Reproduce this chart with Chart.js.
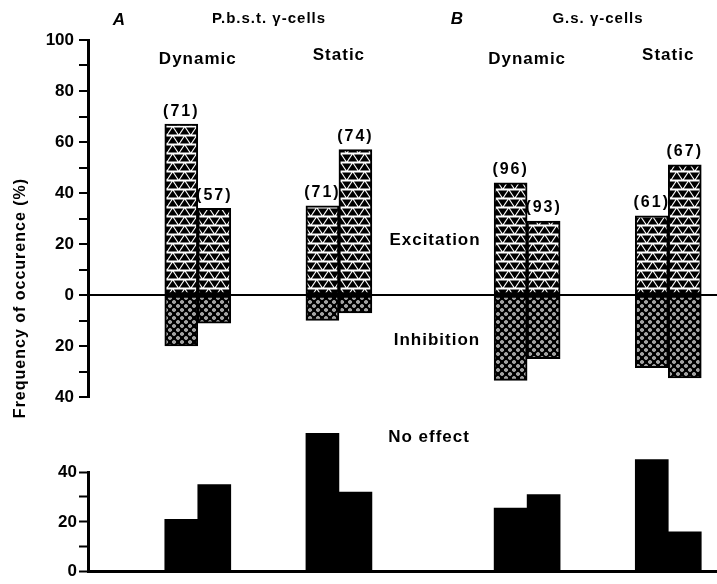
<!DOCTYPE html>
<html>
<head>
<meta charset="utf-8">
<script src="https://cdn.jsdelivr.net/npm/chart.js@4.4.1/dist/chart.umd.min.js"></script>
<style>
  html, body { margin: 0; padding: 0; background: #fff; }
  #wrap { position: relative; width: 717px; height: 584px; overflow: hidden; }
  canvas { position: absolute; left: 0; top: 0; }
</style>
</head>
<body>
<div id="wrap">
  <canvas id="effectChart" width="731" height="584"></canvas>
  <canvas id="noEffectChart" width="731" height="584"></canvas>
</div>
<script>
// Column groups (A: P.b.s.t. γ-cells, B: G.s. γ-cells)
const groupNames = ['Dynamic', 'Static', 'Dynamic', 'Static'];
const panelLetters = ['A', 'B'];
const panelTitles = ['P.b.s.t. γ-cells', 'G.s. γ-cells'];

// Frequency of occurence (%), first and second bar of each group
const excitationFirst = [67, 35, 44, 31];
const excitationSecond = [34, 57, 29, 51];
const inhibitionFirst = [20, 10, 33.5, 28.5];
const inhibitionSecond = [11, 7, 25, 32.5];
const noEffectFirst = [21, 55.5, 25.5, 45];
const noEffectSecond = [35, 32, 31, 16];

// number of cells, printed above the excitation bars
const cellCountsFirst = [71, 71, 96, 61];
const cellCountsSecond = [57, 74, 93, 67];

// the groups sit on a category axis with empty slots between them
const groupSlots = [7, 16, 28, 37];
const slotCount = 42;
const slotLabels = Array.from({ length: slotCount }, (_, i) => {
    const g = groupSlots.indexOf(i);
    return g === -1 ? '' : groupNames[g];
});

function toSlots(values, sign = 1) {
    const out = new Array(slotCount).fill(null);
    groupSlots.forEach((slot, i) => { out[slot] = sign * values[i]; });
    return out;
}

const FONT = '"Liberation Sans", Arial, Helvetica, sans-serif';

// hatch fills
function makePattern(draw, w, h) {
    const c = document.createElement('canvas');
    c.width = w;
    c.height = h;
    draw(c.getContext('2d'), w, h);
    return c.getContext('2d').createPattern(c, 'repeat');
}

function tri(g, pts) {
    g.beginPath();
    g.moveTo(pts[0], pts[1]);
    g.lineTo(pts[2], pts[3]);
    g.lineTo(pts[4], pts[5]);
    g.closePath();
    g.fill();
}

const triangles = makePattern((g, w, h) => {
    g.fillStyle = '#fff';
    g.fillRect(0, 0, w, h);
    g.fillStyle = '#000';
    tri(g, [0, 8.6, 9.4, 8.6, 4.7, 1.4]);
    tri(g, [6, 1.4, 15.4, 1.4, 10.7, 8.6]);
    tri(g, [-6, 1.4, 3.4, 1.4, -1.3, 8.6]);
}, 12, 9);

const rings = makePattern((g, w, h) => {
    g.fillStyle = '#000';
    g.fillRect(0, 0, w, h);
    [[2, 2], [6, 6]].forEach(([x, y]) => {
        g.fillStyle = '#fff';
        g.beginPath(); g.arc(x, y, 1.8, 0, Math.PI * 2); g.fill();
        g.fillStyle = '#000';
        g.beginPath(); g.arc(x, y, 0.7, 0, Math.PI * 2); g.fill();
    });
}, 8, 8);

function putText(ctx, text, x, y, size, opts = {}) {
    ctx.save();
    ctx.font = (opts.italic ? 'italic ' : '') + 'bold ' + size + 'px ' + FONT;
    ctx.letterSpacing = (opts.spacing ?? 1) + 'px';
    ctx.fillStyle = '#000';
    ctx.textAlign = 'center';
    ctx.textBaseline = 'middle';
    ctx.translate(x, y);
    if (opts.rotate) ctx.rotate(opts.rotate);
    ctx.fillText(text, 0, 0);
    ctx.restore();
}

// headings, group names, counts and the side labels
const labelPlugin = {
    id: 'labels',
    afterDatasetsDraw(chart) {
        const ctx = chart.ctx;
        const x = chart.scales.x;

        putText(ctx, panelLetters[0], 119, 20, 17, { italic: true, spacing: 0 });
        putText(ctx, panelTitles[0], 269, 19, 15);
        putText(ctx, panelLetters[1], 457, 19, 17, { italic: true, spacing: 0 });
        putText(ctx, panelTitles[1], 598, 19, 15);

        groupSlots.forEach((slot, i) => {
            const y = groupNames[i] === 'Dynamic' ? 59 : 55;
            putText(ctx, groupNames[i], x.getPixelForValue(slot), y, 17);
        });

        [[0, cellCountsFirst], [2, cellCountsSecond]].forEach(([ds, counts]) => {
            const meta = chart.getDatasetMeta(ds);
            groupSlots.forEach((slot, i) => {
                const bar = meta.data[slot];
                putText(ctx, '(' + counts[i] + ')', bar.x, bar.y - 13, 16, { spacing: 2 });
            });
        });

        putText(ctx, 'Excitation', 435, 240, 17);
        putText(ctx, 'Inhibition', 437, 340, 17);
        putText(ctx, 'No effect', 429, 437, 17);
        putText(ctx, 'Frequency of occurence (%)', 21, 298, 16, { rotate: -Math.PI / 2 });
    }
};

const tickFont = { family: FONT, size: 17, weight: 'bold' };

const effectChart = new Chart(document.getElementById('effectChart'), {
    type: 'bar',
    data: {
        labels: slotLabels,
        datasets: [
            { data: toSlots(excitationFirst), stack: 'first', backgroundColor: triangles },
            { data: toSlots(inhibitionFirst, -1), stack: 'first', backgroundColor: rings },
            { data: toSlots(excitationSecond), stack: 'second', backgroundColor: triangles },
            { data: toSlots(inhibitionSecond, -1), stack: 'second', backgroundColor: rings }
        ]
    },
    options: {
        responsive: false,
        animation: false,
        layout: { padding: { top: 40, bottom: 187, left: 0, right: 0 } },
        datasets: {
            bar: { barThickness: 33, borderColor: '#000', borderWidth: 2, borderSkipped: false }
        },
        plugins: { legend: { display: false }, tooltip: { enabled: false } },
        scales: {
            x: { display: false, offset: false },
            y: {
                stacked: true,
                min: -40,
                max: 100,
                afterFit: s => { s.width = 88; },
                ticks: {
                    stepSize: 10,
                    color: '#000',
                    font: tickFont,
                    padding: 5,
                    callback: v => (v % 20 === 0 ? Math.abs(v) : '')
                },
                grid: {
                    color: c => (c.tick && c.tick.value === 0 ? '#000' : 'rgba(0,0,0,0)'),
                    lineWidth: 2,
                    tickColor: '#000',
                    tickLength: 9,
                    tickWidth: 2
                },
                border: { color: '#000', width: 3 }
            }
        }
    },
    plugins: [labelPlugin]
});

const noEffectChart = new Chart(document.getElementById('noEffectChart'), {
    type: 'bar',
    data: {
        labels: slotLabels,
        datasets: [
            { data: toSlots(noEffectFirst), stack: 'first', backgroundColor: '#000' },
            { data: toSlots(noEffectSecond), stack: 'second', backgroundColor: '#000' }
        ]
    },
    options: {
        responsive: false,
        animation: false,
        layout: { padding: { top: 472, bottom: 10, left: 0, right: 0 } },
        datasets: {
            bar: { barThickness: 33, borderWidth: 0, clip: false }
        },
        plugins: { legend: { display: false }, tooltip: { enabled: false } },
        scales: {
            x: {
                offset: false,
                grid: { display: false, drawTicks: false },
                ticks: { display: false },
                border: { color: '#000', width: 3 }
            },
            y: {
                stacked: true,
                min: 0,
                max: 40,
                afterFit: s => { s.width = 88; },
                ticks: {
                    stepSize: 10,
                    color: '#000',
                    font: tickFont,
                    padding: 2,
                    callback: v => (v % 20 === 0 ? v : '')
                },
                grid: {
                    drawOnChartArea: false,
                    tickColor: '#000',
                    tickLength: 9,
                    tickWidth: 2
                },
                border: { color: '#000', width: 3 }
            }
        }
    }
});
</script>
</body>
</html>
